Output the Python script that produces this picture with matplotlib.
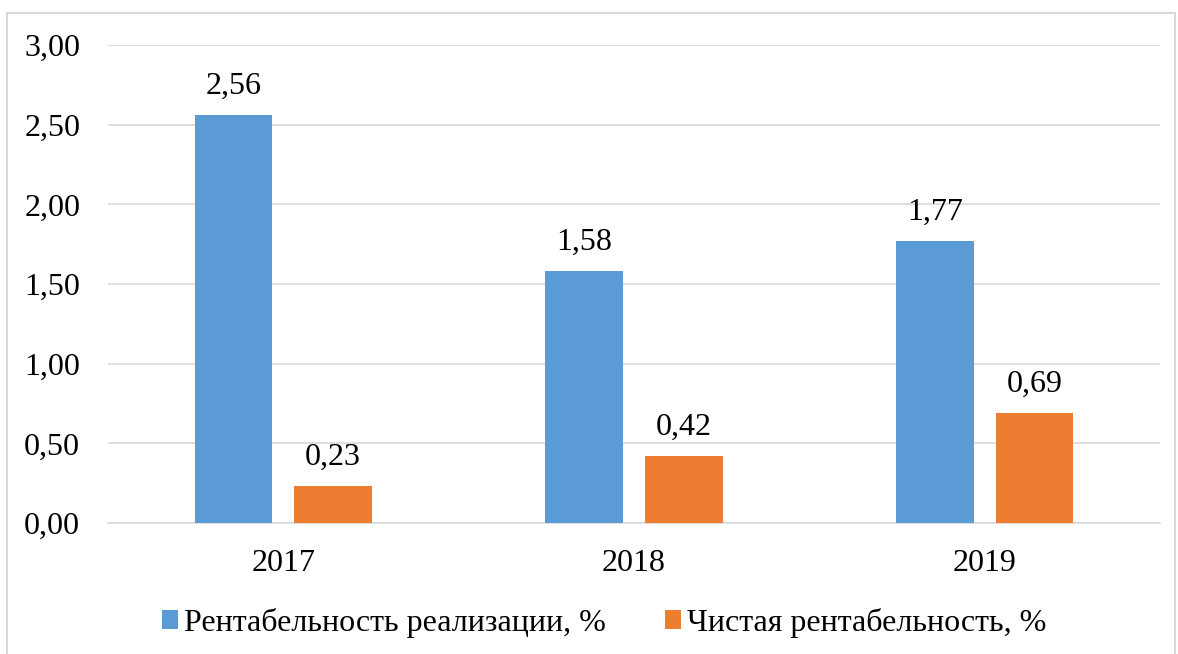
import matplotlib.pyplot as plt
import numpy as np
from matplotlib.patches import Rectangle

plt.rcParams['font.family'] = ['Liberation Serif', 'DejaVu Serif']

years = ['2017', '2018', '2019']
sales_margin = [2.56, 1.58, 1.77]
net_margin = [0.23, 0.42, 0.69]
series_names = ['Рентабельность реализации, %', 'Чистая рентабельность, %']

blue = '#5B9BD5'
orange = '#ED7D31'
fs = 23

fig = plt.figure(figsize=(11.78, 6.54), dpi=100)
# рамка вокруг диаграммы
fig.patches.append(Rectangle((7 / 1178, -0.01), 1168 / 1178, 1 - 13 / 654 + 0.01,
                             transform=fig.transFigure, fill=False,
                             edgecolor='#D9D9D9', linewidth=1.5))

ax = fig.add_axes([108 / 1178, 1 - 523 / 654, 1052 / 1178, 478 / 654])

x = np.arange(len(years))
w = 0.222
off = 0.142
b1 = ax.bar(x - off, sales_margin, w, color=blue, label=series_names[0], zorder=3)
b2 = ax.bar(x + off, net_margin, w, color=orange, label=series_names[1], zorder=3)

for bars, vals in ((b1, sales_margin), (b2, net_margin)):
    for rect, v in zip(bars, vals):
        ax.text(rect.get_x() + rect.get_width() / 2, v + 0.09,
                f'{v:.2f}'.replace('.', ','), ha='center', va='bottom', fontsize=fs)

ax.set_xlim(-0.5, 2.5)
ax.set_ylim(0, 3)
ticks = np.arange(0, 3.01, 0.5)
ax.set_yticks(ticks)
ax.set_yticklabels([f'{t:.2f}'.replace('.', ',') for t in ticks], fontsize=fs)
ax.set_xticks(x)
ax.set_xticklabels(years, fontsize=fs)
ax.tick_params(length=0)
ax.tick_params(axis='y', pad=20)
ax.tick_params(axis='x', pad=19)
ax.grid(axis='y', color='#D9D9D9', linewidth=1.2, zorder=0)
for s in ['top', 'right', 'left']:
    ax.spines[s].set_visible(False)
ax.spines['bottom'].set_color('#D9D9D9')
ax.spines['bottom'].set_linewidth(1.2)

fig.legend(handles=[b1, b2], loc='center', bbox_to_anchor=(0.513, 1 - 623 / 654),
           ncol=2, frameon=False, fontsize=fs, handlelength=0.5, handleheight=0.55,
           handletextpad=0.2, columnspacing=1.85, borderpad=0)

fig.savefig('out.png', dpi=100)
